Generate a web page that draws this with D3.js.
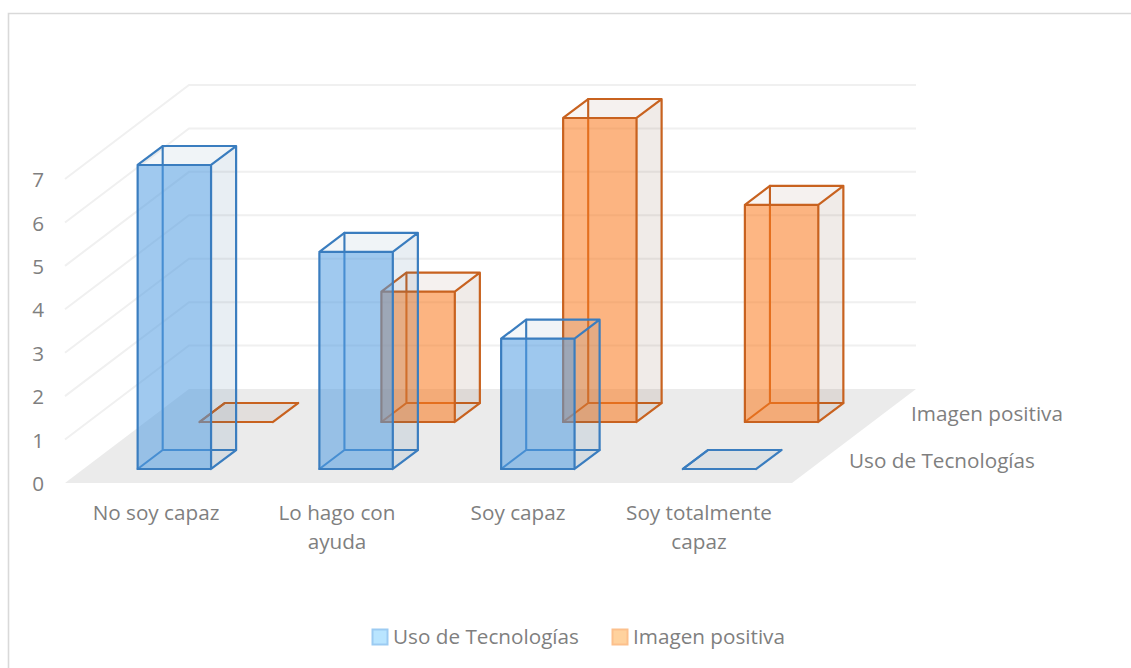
<!DOCTYPE html>
<html lang="es"><head><meta charset="utf-8">
<script src="https://cdn.jsdelivr.net/npm/d3@7/dist/d3.min.js"></script>
<style>html,body{margin:0;padding:0;background:#fff}svg{display:block}text{font-family:"Open Sans",sans-serif;fill:#7f7f7f}</style>
</head><body><svg id="c" width="1131" height="668"></svg>
<script>
const categories = [["No soy capaz"],["Lo hago con","ayuda"],["Soy capaz"],["Soy totalmente","capaz"]];
const seriesNames = ["Uso de Tecnologías","Imagen positiva"];
const usoValues = [7,5,3,0];
const imagenValues = [0,3,7,5];
const yTicks = [0,1,2,3,4,5,6,7];

const styles = {
  "Uso de Tecnologías": {line:"#3a7dbf", front:"#529de2", side:"#4472a0", sideA:.10, backA:.02, topA:.06, leg:"#b9e5ff", legS:"#9ccbf2"},
  "Imagen positiva": {line:"#c8621f", front:"#fc7a1e", side:"#7a4a28", sideA:.09, backA:.02, topA:.055, leg:"#ffd29e", legS:"#fcc08c"}
};
const FS = 20.7;
const svg = d3.select("#c");
svg.append("path").attr("d","M1131 13.5H8.5V668").attr("fill","none").attr("stroke","#d9d9d9").attr("stroke-width",1.6);

// projection built from scales: category axis u, depth axis d, value axis v
const X0=65,Y0=483,W=727,DX=124,DY=94;
const uScale=d3.scaleLinear().domain([0,1]).range([0,W]);
const dxScale=d3.scaleLinear().domain([0,1]).range([0,DX]);
const dyScale=d3.scaleLinear().domain([0,1]).range([0,DY]);
const vScale=d3.scaleLinear().domain([0,7]).range([0,304]);
const catKeys=categories.map(c=>c.join(" "));
const band=d3.scaleBand().domain(catKeys).range([0,1]).paddingInner(.596).paddingOuter(.298);
const depth=d3.scaleBand().domain(seriesNames).range([0,1]).paddingInner(.596).paddingOuter(.298);
const P=(u,d,v)=>[X0+uScale(u)+dxScale(d),Y0-dyScale(d)-vScale(v)];
const poly=pts=>"M"+pts.map(p=>p.map(n=>n.toFixed(1)).join(",")).join("L")+"Z";

// floor
svg.append("path").attr("d",poly([P(0,0,0),P(1,0,0),P(1,1,0),P(0,1,0)])).attr("fill","#ebebeb");
// grid
const grid=svg.append("g").attr("fill","none").attr("stroke","#f0f0f0").attr("stroke-width",2);
grid.selectAll("path").data(yTicks.slice(1)).join("path")
  .attr("d",v=>d3.line()([P(0,0,v),P(0,1,v),P(1,1,v)]));

// value axis
const yAxisScale=d3.scaleLinear().domain([0,7]).range([Y0,Y0-vScale(7)]);
const yAxis=svg.append("g").attr("transform","translate(44,1)").call(d3.axisLeft(yAxisScale).tickValues(yTicks).tickSize(0).tickPadding(0).tickFormat(d3.format("d")));
yAxis.select(".domain").remove();
yAxis.selectAll("text").style("font-family",'"Open Sans",sans-serif').style("font-size",FS+"px").style("fill","#7f7f7f");

function box(g,cat,name,val){
  const s=styles[name];
  const u0=band(cat),u1=u0+band.bandwidth(),d0=depth(name),d1=d0+depth.bandwidth();
  const a=P(u0,d0,0),b=P(u1,d0,0),c=P(u1,d1,0),e=P(u0,d1,0);
  const A=P(u0,d0,val),B=P(u1,d0,val),C=P(u1,d1,val),E=P(u0,d1,val);
  const face=(pts,f,o)=>g.append("path").attr("d",poly(pts)).attr("fill",f).attr("fill-opacity",o);
  const edges=(segs,w,o)=>g.append("path").attr("d",segs.map(x=>d3.line()(x)).join("")).attr("fill","none")
     .attr("stroke",s.line).attr("stroke-width",w).attr("stroke-opacity",o).attr("stroke-linejoin","round").attr("stroke-linecap","round");
  // faces behind
  face([a,b,c,e],s.side,s.backA);
  face([e,c,C,E],s.side,s.backA);
  // hidden edges, seen through the front face
  edges([[a,e],[e,c],[e,E]],2.1,1);
  // nearer faces
  face([b,c,C,B],s.side,s.sideA);
  face([A,B,C,E],s.side,s.topA);
  if(val>0) face([a,b,B,A],s.front,.55);
  edges([[a,b,B,A,a],[b,c,C,B],[A,E,C]],2.2,1);
}

const boxesBack=svg.append("g"), boxesFront=svg.append("g");
catKeys.forEach((c,i)=>box(boxesBack,c,seriesNames[1],imagenValues[i]));
catKeys.forEach((c,i)=>box(boxesFront,c,seriesNames[0],usoValues[i]));

// category labels
const labelX=d3.scalePoint().domain(catKeys).range([156,699]);
svg.append("g").selectAll("text").data(categories).join("text")
  .attr("text-anchor","middle").attr("font-size",FS)
  .each(function(lines){
    const key=lines.join(" ");
    d3.select(this).selectAll("tspan").data(lines).join("tspan")
      .attr("x",labelX(key)).attr("y",(l,i)=>520+i*29).text(l=>l);
  });

// depth labels
const depthLabelX=d3.scalePoint().domain(seriesNames).range([849,911]);
const depthLabelY=d3.scalePoint().domain(seriesNames).range([468,421]);
svg.append("g").selectAll("text").data(seriesNames).join("text")
  .attr("x",d=>depthLabelX(d)).attr("y",d=>depthLabelY(d)).attr("font-size",FS).text(d=>d);

// legend
const legX=d3.scalePoint().domain(seriesNames).range([372,612]);
const leg=svg.append("g").selectAll("g").data(seriesNames).join("g").attr("transform",d=>`translate(${legX(d)},0)`);
leg.append("rect").attr("x",.5).attr("y",629.5).attr("width",15).attr("height",15)
  .attr("fill",d=>styles[d].leg).attr("stroke",d=>styles[d].legS).attr("stroke-width",2);
leg.append("text").attr("x",21).attr("y",644).attr("font-size",FS).text(d=>d);
</script></body></html>
